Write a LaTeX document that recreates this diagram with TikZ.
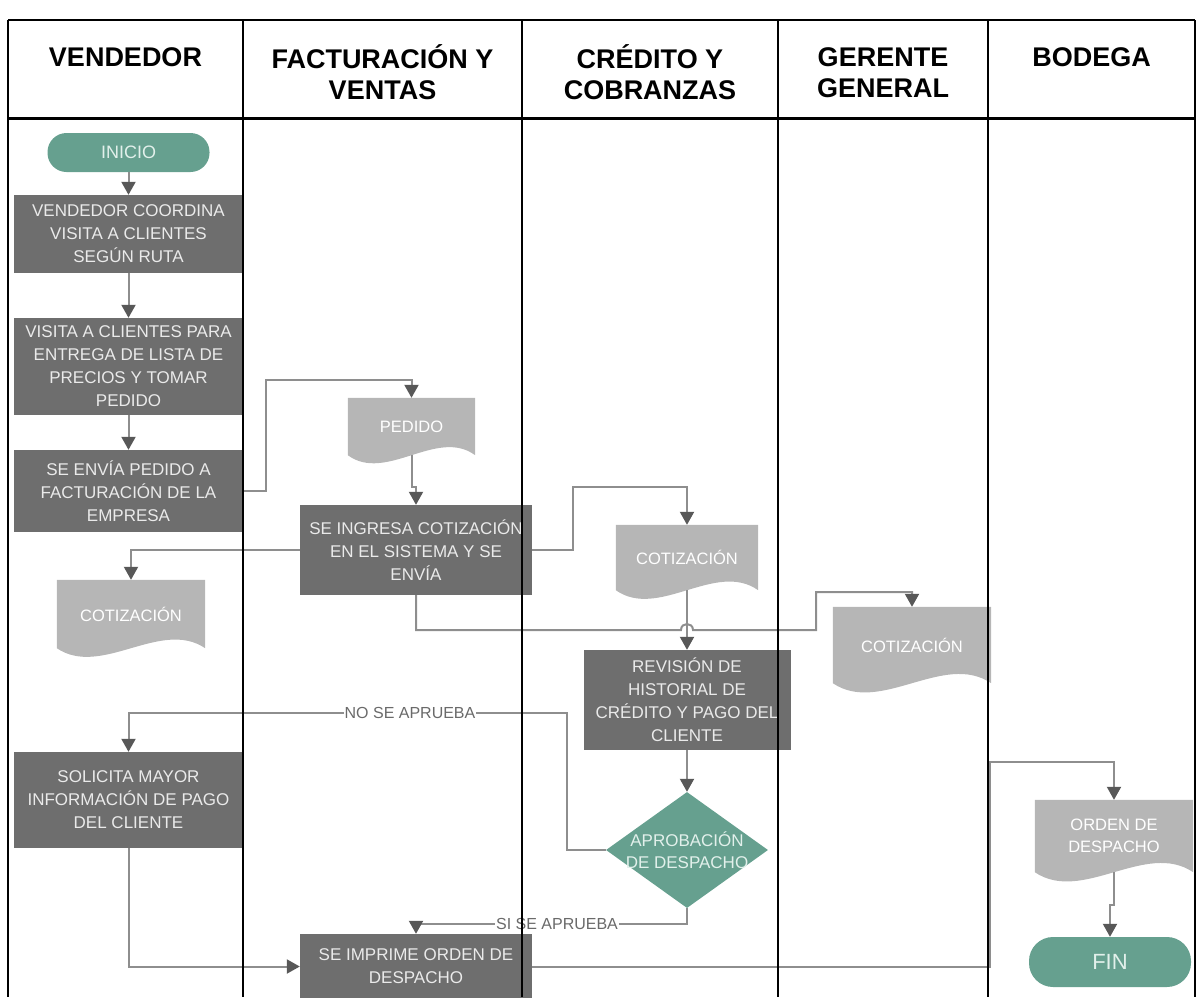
\documentclass[tikz,border=0pt]{standalone}
\usepackage{fontspec}
\setmainfont{Liberation Sans}
\usetikzlibrary{arrows.meta,shapes.geometric,calc,backgrounds}

\definecolor{boxgray}{HTML}{6E6E6E}
\definecolor{docgray}{HTML}{B6B6B6}
\definecolor{termteal}{HTML}{66A08F}
\definecolor{linegray}{HTML}{8E8E8E}
\definecolor{tipgray}{HTML}{585858}
\definecolor{boxtext}{HTML}{EAEAEA}
\definecolor{termtext}{HTML}{E2F0EB}
\definecolor{labelgray}{HTML}{6A6A6A}

% document symbol: straight top and sides, wavy bottom edge
\newcommand\docwave[2]{%
  \begin{scope}[on background layer]
    \fill[docgray] (#1.north west) -- (#1.north east) -- (#1.south east)
      .. controls ($(#1.south east)!0.3!(#1.south west)+(0,-#2)$)
         and ($(#1.south west)!0.3!(#1.south east)+(0,#2)$) .. (#1.south west) -- cycle;
  \end{scope}}

\begin{document}
\begin{tikzpicture}[x=1pt,y=-1pt,
  lane/.style={line width=2.8pt,black},
  head/.style={font=\fontsize{27}{31}\selectfont\bfseries,align=center,inner sep=0pt},
  proc/.style={rectangle,fill=boxgray,text=boxtext,font=\fontsize{17}{23}\selectfont,align=center,inner sep=0pt},
  term/.style={rectangle,rounded corners=19pt,fill=termteal,text=termtext,inner sep=0pt},
  docbox/.style={rectangle,text=white,font=\fontsize{16.5}{22}\selectfont,align=center,inner sep=0pt},
  decision/.style={diamond,fill=termteal,inner sep=0pt},
  conn/.style={draw=linegray,line width=2pt,-{Triangle[width=14pt,length=13pt,color=tipgray]}},
  lbl/.style={fill=white,text=labelgray,font=\fontsize{16}{18}\selectfont,inner sep=1pt}
]
\useasboundingbox (0,0) rectangle (1200,997);

% header titles
\node[head] (hv) at (125.5,57) {VENDEDOR};
\node[head] (hf) at (382.5,72.5) {FACTURACIÓN Y\\VENTAS};
\node[head] (hc) at (650,72.5) {CRÉDITO Y\\COBRANZAS};
\node[head] (hg) at (883,72.5) {GERENTE\\GENERAL};
\node[head] (hb) at (1091.5,57) {BODEGA};

% vendedor lane
\node[term,minimum width=162pt,minimum height=39pt,font=\fontsize{18}{20}\selectfont] (ini) at (128.5,152.5) {INICIO};
\node[proc,minimum width=229pt,minimum height=78pt] (b1) at (128.5,234) {VENDEDOR COORDINA\\VISITA A CLIENTES\\SEGÚN RUTA};
\node[proc,minimum width=229pt,minimum height=97pt] (b2) at (128.5,366.5) {VISITA A CLIENTES PARA\\ENTREGA DE LISTA DE\\PRECIOS Y TOMAR\\PEDIDO};
\node[proc,minimum width=229pt,minimum height=82pt] (b3) at (128.5,491) {SE ENVÍA PEDIDO A\\FACTURACIÓN DE LA\\EMPRESA};
\node[docbox,minimum width=148pt,minimum height=68pt] (cot1) at (131,614) {COTIZACIÓN};
\docwave{cot1}{30}
\node[proc,minimum width=229pt,minimum height=96pt] (sol) at (128.5,800) {SOLICITA MAYOR\\INFORMACIÓN DE PAGO\\DEL CLIENTE};

% facturacion lane
\node[docbox,minimum width=127pt,minimum height=57pt] (ped) at (411.5,426.5) {PEDIDO};
\docwave{ped}{28}
\node[proc,minimum width=232pt,minimum height=90pt] (b4) at (416,550) {SE INGRESA COTIZACIÓN\\EN EL SISTEMA Y SE\\ENVÍA};
\node[proc,minimum width=232pt,minimum height=65pt] (imp) at (416,966.5) {SE IMPRIME ORDEN DE\\DESPACHO};

% credito lane
\node[docbox,minimum width=142pt,minimum height=65pt] (cot2) at (687,557.5) {COTIZACIÓN};
\docwave{cot2}{30}
\node[proc,minimum width=207pt,minimum height=100pt] (rev) at (687,700) {REVISIÓN DE\\HISTORIAL DE\\CRÉDITO Y PAGO DEL\\CLIENTE};
\node[decision,minimum width=162pt,minimum height=116pt,
      label={[text=termtext,font=\fontsize{17}{22}\selectfont,align=center]center:APROBACIÓN\\DE DESPACHO}] (dia) at (687,850) {};

% gerente lane
\node[docbox,minimum width=158pt,minimum height=76pt] (cot3) at (912,645) {COTIZACIÓN};
\docwave{cot3}{32}

% bodega lane
\node[docbox,minimum width=158pt,minimum height=72pt] (ord) at (1114,836) {ORDEN DE\\DESPACHO};
\docwave{ord}{32}
\node[term,minimum width=162pt,minimum height=50pt,rounded corners=24pt,font=\fontsize{22}{24}\selectfont] (fin) at (1110,962) {FIN};

% bend points
\coordinate (jp) at (266,380);
\coordinate (jg) at (416,487);
\coordinate (jc) at (573,487);
\coordinate (hop) at (687,630);
\coordinate (j3) at (816,592);
\coordinate (jn) at (567,713);
\coordinate (js) at (416,924);
\coordinate (jb) at (990,762);
\coordinate (jf) at (1110,905);

% connectors
\draw[conn] (ini) -- (b1);
\draw[conn] (b1) -- (b2);
\draw[conn] (b2) -- (b3);
\draw[conn] (b3.east) -| (jp) -| (ped.north);
\draw[conn] (ped.south) |- (jg) -| (b4.north);
\draw[conn] (b4.east) -| (jc) -| (cot2.north);
\draw[conn] (b4.west) -| (cot1.north);
\draw[conn] (b4.south) |- ($(hop)+(-6,0)$)
  .. controls ($(hop)+(-6,-8)$) and ($(hop)+(6,-8)$) .. ($(hop)+(6,0)$)
  -| (j3) -| (cot3.north);
\draw[conn] (cot2.south) -- (rev.north);
\draw[conn] (rev.south) -- (dia.north);
\draw[conn] (dia.west) -| (jn) -| (sol.north);
\draw[conn] (dia.south) |- (js) -| (imp.north);
\draw[conn] (sol.south) |- (imp.west);
\draw[conn] (imp.east) -| (jb) -| (ord.north);
\draw[conn] (ord.south) |- (jf) -| (fin.north);

\node[lbl] (lno) at (410,713) {NO SE APRUEBA};
\node[lbl] (lsi) at (557,924) {SI SE APRUEBA};

% swimlane grid
\draw[line width=2.8pt] (8,20) -- (1195,20);
\draw[line width=3pt] (8,118) -- (1195,118);
\foreach \x in {8,243,522,778,988,1195}
  \draw[lane] (\x,20) -- (\x,997);
\end{tikzpicture}
\end{document}
